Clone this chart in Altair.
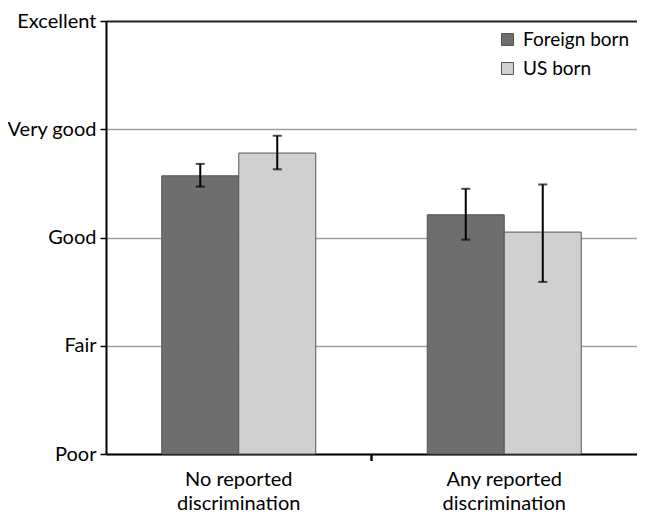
import altair as alt
import pandas as pd

categories = ["No reported discrimination", "No reported discrimination",
              "Any reported discrimination", "Any reported discrimination"]
groups = ["Foreign born", "US born", "Foreign born", "US born"]
means = [3.57, 3.78, 3.21, 3.05]
lows = [3.47, 3.63, 2.98, 2.59]
highs = [3.68, 3.94, 3.45, 3.49]
cat_order = ["No reported discrimination", "Any reported discrimination"]
group_order = ["Foreign born", "US born"]
y_ticks = [1, 2, 3, 4, 5]
y_labels = ["Poor", "Fair", "Good", "Very good", "Excellent"]

df = pd.DataFrame({"cat": categories, "group": groups, "mean": means,
                   "lo": lows, "hi": highs})

FONT = "Lato"
FS = 20
H = 433
label_expr = "[" + ",".join(f"'{l}'" for l in y_labels) + "][datum.value - 1]"

x_enc = alt.X("cat:N", sort=cat_order, title=None,
              scale=alt.Scale(paddingInner=0, paddingOuter=0),
              axis=alt.Axis(labelExpr="[split(datum.label, ' ')[0] + ' ' + split(datum.label, ' ')[1], 'discrimination']",
                            labelAngle=0, ticks=False,
                            domainColor="black", domainWidth=2,
                            labelFontSize=FS, labelFont=FONT, labelColor="black",
                            labelPadding=15, labelLineHeight=24))
xo_enc = alt.XOffset("group:N", sort=group_order,
                     scale=alt.Scale(paddingInner=0, paddingOuter=0.724))
y_scale = alt.Scale(domain=[1, 5], zero=False, nice=False)

bars = alt.Chart(df).mark_bar(stroke="#555555", strokeWidth=1).encode(
    x=x_enc,
    xOffset=xo_enc,
    y=alt.Y("mean:Q", scale=y_scale, title=None,
            axis=alt.Axis(values=y_ticks, labelExpr=label_expr,
                          grid=True,
                          gridColor={"condition": {"test": "datum.value == 5", "value": "#222222"},
                                     "value": "#a0a0a0"},
                          gridWidth={"condition": {"test": "datum.value == 5", "value": 2},
                                     "value": 1.5},
                          domainColor="black", domainWidth=2,
                          tickColor="black", tickWidth=1.5, tickSize=6,
                          labelFontSize=FS, labelFont=FONT, labelColor="black",
                          labelPadding=4)),
    y2=alt.datum(1),
    color=alt.Color("group:N", sort=group_order,
                    scale=alt.Scale(domain=group_order, range=["#6e6e6e", "#d0d0d0"]),
                    legend=alt.Legend(title=None, orient="none", legendX=392, legendY=9,
                                      symbolType="square", symbolSize=144,
                                      symbolStrokeColor="#555555", symbolStrokeWidth=1,
                                      labelFontSize=19, labelFont=FONT, labelColor="black",
                                      labelOffset=6, rowPadding=9, symbolOffset=0)),
)

tick_mark = alt.Chart(df).mark_rule(color="black", strokeWidth=1.5).encode(
    x=alt.XDatum(cat_order[1], type="nominal", bandPosition=0),
    y=alt.value(H),
    y2=alt.value(H + 7),
)

rules = alt.Chart(df).mark_rule(color="black", strokeWidth=2).encode(
    x=alt.X("cat:N", sort=cat_order),
    xOffset=alt.XOffset("group:N", sort=group_order),
    y=alt.Y("lo:Q", scale=y_scale),
    y2="hi:Q",
)
caps_lo = alt.Chart(df).mark_tick(color="black", thickness=2, size=9).encode(
    x=alt.X("cat:N", sort=cat_order),
    xOffset=alt.XOffset("group:N", sort=group_order),
    y=alt.Y("lo:Q", scale=y_scale),
)
caps_hi = alt.Chart(df).mark_tick(color="black", thickness=2, size=9).encode(
    x=alt.X("cat:N", sort=cat_order),
    xOffset=alt.XOffset("group:N", sort=group_order),
    y=alt.Y("hi:Q", scale=y_scale),
)

chart = alt.layer(bars, tick_mark, rules, caps_lo, caps_hi).properties(
    width=531, height=H,
    autosize=alt.AutoSizeParams(type="none"),
    padding={"left": 98, "top": 13, "right": 0, "bottom": 62},
).configure_view(stroke=None).configure(background="white")

chart.save("out.html", embed_options={"renderer": "svg", "actions": False})
